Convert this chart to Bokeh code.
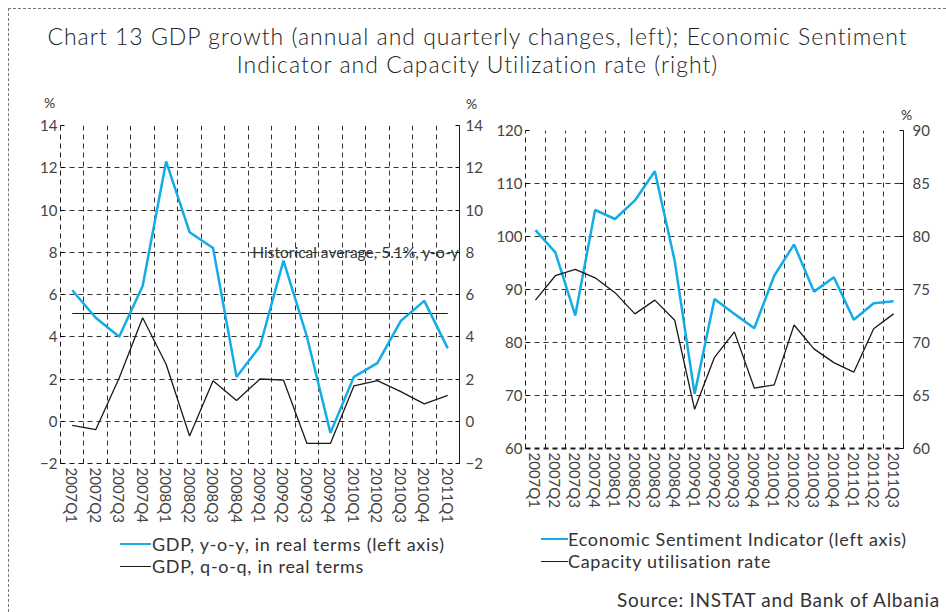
import math
from bokeh.plotting import figure
from bokeh.models import (Range1d, LinearAxis, FixedTicker, Label, Div)
from bokeh.layouts import column, row
from bokeh.embed import file_html
from bokeh.resources import INLINE

# ---------------- data ----------------
quarters_left = ["2007Q1", "2007Q2", "2007Q3", "2007Q4", "2008Q1", "2008Q2",
                 "2008Q3", "2008Q4", "2009Q1", "2009Q2", "2009Q3", "2009Q4",
                 "2010Q1", "2010Q2", "2010Q3", "2010Q4", "2011Q1"]
gdp_yoy = [6.2, 4.9, 4.0, 6.4, 12.3, 8.95, 8.2, 2.1, 3.55, 7.6, 4.0, -0.55,
           2.1, 2.75, 4.75, 5.7, 3.45]
gdp_qoq = [-0.2, -0.4, 2.05, 4.9, 2.7, -0.7, 1.92, 0.98, 2.0, 1.95, -1.05,
           -1.05, 1.67, 1.92, 1.4, 0.82, 1.23]
hist_avg = 5.1

quarters_right = quarters_left + ["2011Q2", "2011Q3"]
esi = [101.2, 97.0, 85.1, 105.0, 103.3, 106.8, 112.3, 95.4, 70.3, 88.2, 85.4,
       82.7, 92.6, 98.5, 89.6, 92.3, 84.3, 87.4, 87.8]
cu = [74.0, 76.3, 76.9, 76.1, 74.7, 72.7, 74.0, 72.1, 63.7, 68.6, 71.0, 65.7,
      66.0, 71.65, 69.4, 68.1, 67.2, 71.3, 72.7]

left_ticks = [-2, 0, 2, 4, 6, 8, 10, 12, 14]
esi_ticks = [60, 70, 80, 90, 100, 110, 120]
cu_ticks = [60, 65, 70, 75, 80, 85, 90]

legend_left = ["GDP, y-o-y, in real terms (left axis)", "GDP, q-o-q, in real terms"]
legend_right = ["Economic Sentiment Indicator (left axis)", "Capacity utilisation rate"]
source_text = "Source: INSTAT and Bank of Albania"
title_lines = ["Chart 13 GDP growth (annual and quarterly changes, left); Economic Sentiment",
               "Indicator and Capacity Utilization rate (right)"]

BLUE = "#12ACE6"
BLACK = "#1a1a1a"
GRID = "#333333"
FONT = "Lato"
TICK_COLOR = "#444444"
TEXT = "#333333"


def style_y(ax, ticks, standoff):
    ax.ticker = FixedTicker(ticks=ticks)
    ax.major_label_text_font = FONT
    ax.major_label_text_font_size = "15px"
    ax.major_label_text_color = TICK_COLOR
    ax.major_tick_in = 4
    ax.major_tick_out = 0
    ax.minor_tick_line_color = None
    ax.minor_tick_in = 0
    ax.minor_tick_out = 0
    ax.major_label_standoff = standoff
    ax.axis_line_color = BLACK


def style_x(p, labels):
    n = len(labels)
    ax = p.xaxis[0]
    ax.ticker = FixedTicker(ticks=list(range(n)),
                            minor_ticks=[k - 0.5 for k in range(n + 1)])
    ax.major_label_overrides = {i: q for i, q in enumerate(labels)}
    ax.major_label_orientation = -math.pi / 2
    ax.major_label_text_font = FONT
    ax.major_label_text_font_size = "15px"
    ax.major_label_text_color = TICK_COLOR
    ax.major_tick_line_color = None
    ax.major_tick_in = 0
    ax.major_tick_out = 0
    ax.minor_tick_in = 4
    ax.minor_tick_out = 0
    ax.minor_tick_line_color = BLACK
    ax.major_label_standoff = 4
    ax.axis_line_dash = "5 4"
    ax.axis_line_color = BLACK
    p.xgrid.ticker = FixedTicker(ticks=[k - 0.5 for k in range(n + 1)])


def style_grid(p):
    for g in (p.xgrid[0], p.ygrid[0]):
        g.grid_line_color = GRID
        g.grid_line_dash = "5 4"
        g.grid_line_width = 1


def pct_div(width, height, spans):
    html = ('<div style="position:relative;width:%dpx;height:%dpx;'
            'font-family:Lato;font-size:14px;line-height:17px;color:#333">'
            % (width, height))
    for left, top in spans:
        html += '<span style="position:absolute;left:%dpx;top:%dpx">%%</span>' % (left, top)
    html += '</div>'
    return Div(text=html, width=width, height=height, margin=0)


def legend_div(width, height, left, tops, row_h, glyph_w, standoff, labels,
               colors, widths, extra=""):
    html = ('<div style="position:relative;width:%dpx;height:%dpx;'
            'font-family:Lato;color:#333">' % (width, height))
    for top, lab, col, lw in zip(tops, labels, colors, widths):
        html += ('<div style="position:absolute;left:%dpx;top:%dpx;height:%dpx;'
                 'display:flex;align-items:center;white-space:nowrap">'
                 '<span style="display:inline-block;width:%dpx;height:0;'
                 'border-top:%spx solid %s"></span>'
                 '<span style="margin-left:%dpx;font-size:18px;letter-spacing:0.7px;'
                 'line-height:%dpx">%s</span>'
                 '</div>' % (left, top, row_h, glyph_w, lw, col, standoff, row_h, lab))
    html += extra + '</div>'
    return Div(text=html, width=width, height=height, margin=0)


# ---------------- left chart ----------------
nL = len(quarters_left)
xL = list(range(nL))
p1 = figure(x_range=Range1d(-0.5, nL - 0.5), y_range=Range1d(-2, 14),
            output_backend="svg", toolbar_location=None,
            min_border_left=51, min_border_right=33,
            min_border_top=14, min_border_bottom=66)
p1.frame_width = 399
p1.frame_height = 338
p1.outline_line_color = None
p1.background_fill_color = None
p1.border_fill_color = None
style_grid(p1)
style_x(p1, quarters_left)
style_y(p1.yaxis[0], left_ticks, 3)
p1.yaxis[0].axis_line_dash = "5 4"
p1.add_layout(LinearAxis(), "right")
style_y(p1.yaxis[1], left_ticks, 6)

p1.line(x=[xL[0], xL[-1]], y=[hist_avg, hist_avg], line_color=BLACK,
        line_width=1.2)
p1.line(x=xL, y=gdp_yoy, line_color=BLUE, line_width=2.5)
p1.line(x=xL, y=gdp_qoq, line_color=BLACK, line_width=1.3)

p1.add_layout(Label(x=nL - 0.52, y=8.0, text="Historical average, 5.1%, y-o-y",
                    text_align="right", text_baseline="middle",
                    text_font=FONT, text_font_size="15.5px", text_color=TEXT))

# ---------------- right chart ----------------
nR = len(quarters_right)
xR = list(range(nR))
p2 = figure(x_range=Range1d(-0.5, nR - 0.5), y_range=Range1d(60, 120),
            output_backend="svg", toolbar_location=None,
            min_border_left=33, min_border_right=43,
            min_border_top=9, min_border_bottom=68)
p2.frame_width = 378
p2.frame_height = 318
p2.outline_line_color = None
p2.background_fill_color = None
p2.border_fill_color = None
p2.extra_y_ranges = {"cu": Range1d(60, 90)}
style_grid(p2)
style_x(p2, quarters_right)
p2.xaxis[0].axis_line_width = 2
style_y(p2.yaxis[0], esi_ticks, 3)
p2.yaxis[0].axis_line_dash = "5 4"
p2.add_layout(LinearAxis(y_range_name="cu"), "right")
style_y(p2.yaxis[1], cu_ticks, 9)

p2.line(x=xR, y=esi, line_color=BLUE, line_width=2.5)
p2.line(x=xR, y=cu, line_color=BLACK, line_width=1.3, y_range_name="cu")

# ---------------- surrounding texts ----------------
title = Div(text=('<div style="text-align:center;font-family:Lato;'
                  'font-size:23px;line-height:28px;font-weight:300;'
                  'letter-spacing:1px;color:#222;padding-top:13px;width:937px">'
                  + title_lines[0] + '<br>' + title_lines[1] + '</div>'),
            width=937, height=75, margin=0)

left_top = pct_div(483, 27, [(35, 10), (457, 11)])
right_top = pct_div(454, 37, [(409, 22)])

left_bottom = legend_div(483, 83, 111, [4, 26], 22, 31, 1, legend_left,
                         [BLUE, BLACK], [2.5, 1.5])
source_html = ('<div style="position:absolute;right:6px;top:72px;'
               'font-size:19px;letter-spacing:0.7px;line-height:23px;'
               'white-space:nowrap">%s</div>' % source_text)
right_bottom = legend_div(454, 96, 49, [12, 34], 22, 27, 0, legend_right,
                          [BLUE, BLACK], [2.5, 1.5], extra=source_html)

root = column(title,
              row(column(left_top, p1, left_bottom),
                  column(right_top, p2, right_bottom)),
              styles={"border-top": "1px dashed #777",
                      "border-left": "1px dashed #777",
                      "margin-left": "8px", "margin-top": "8px"})

open("out.html", "w").write(file_html(root, INLINE))
